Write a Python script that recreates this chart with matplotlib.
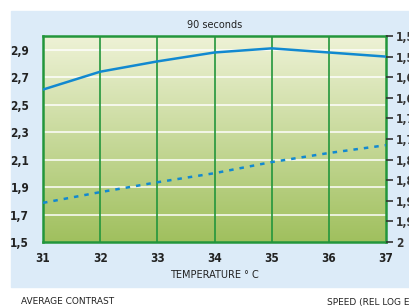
import numpy as np
import matplotlib
matplotlib.use("Agg")
import matplotlib.pyplot as plt
from matplotlib.patches import Rectangle

# data
temps = [31, 32, 33, 34, 35, 36, 37]
contrast = [2.61, 2.74, 2.815, 2.88, 2.91, 2.88, 2.85]
speed = [1.905, 1.879, 1.855, 1.833, 1.806, 1.784, 1.765]

left_ticks = [1.5, 1.7, 1.9, 2.1, 2.3, 2.5, 2.7, 2.9]
left_labels = ["1,5", "1,7", "1,9", "2,1", "2,3", "2,5", "2,7", "2,9"]
right_ticks = [1.5, 1.55, 1.6, 1.65, 1.7, 1.75, 1.8, 1.85, 1.9, 1.95, 2.0]
right_labels = ["1,5", "1,55", "1,6", "1,65", "1,7", "1,75", "1,8", "1,85", "1,9", "1,95", "2"]

num_kw = dict(family="DejaVu Sans", fontsize=8.5, weight="bold", stretch="condensed")
green = "#23963c"
blue = "#1289d0"

fig = plt.figure(figsize=(4.1, 3.08), dpi=100)
fig.patches.append(Rectangle((11 / 410, 1 - 287 / 308), 1, (287 - 11) / 308,
                             transform=fig.transFigure, color="#dcebf8", zorder=-10))

ax = fig.add_axes([43 / 410, 1 - 242 / 308, 343 / 410, 206 / 308])
ax.set_xlim(31, 37)
ax.set_ylim(1.5, 3.0)

# vertical gradient background
top = np.array([238, 242, 214]) / 255
bot = np.array([160, 192, 94]) / 255
t = np.linspace(0, 1, 256)[:, None]
grad = top * (1 - t[..., None]) + bot * t[..., None]
ax.imshow(grad, extent=[31, 37, 1.5, 3.0], aspect="auto", zorder=0)

for y in left_ticks[1:]:
    ax.axhline(y, color="white", lw=1.2, alpha=0.9, zorder=1)
for x in temps[1:-1]:
    ax.axvline(x, color=green, lw=1.2, zorder=2)

ax.plot(temps, contrast, color=blue, lw=1.8, zorder=3)

for s in ax.spines.values():
    s.set_color(green)
    s.set_linewidth(1.8)

ax.set_xticks(temps)
ax.set_xticklabels([str(v) for v in temps], **num_kw)
ax.set_yticks(left_ticks)
ax.set_yticklabels(left_labels, **num_kw)
ax.tick_params(axis="both", length=0, colors="#222222")
ax.tick_params(axis="y", pad=10)
ax.tick_params(axis="x", pad=7)
ax.set_xlabel("TEMPERATURE ° C", fontsize=7, labelpad=4, color="#222222")
ax.set_title("90 seconds", fontsize=7, pad=6, color="#222222")

ax2 = ax.twinx()
ax2.set_ylim(2.0, 1.5)
ax2.plot(temps, speed, color=blue, lw=1.8, linestyle=(0, (1.8, 2.4)), zorder=3)
ax2.set_yticks(right_ticks)
ax2.set_yticklabels(right_labels, **num_kw)
ax2.tick_params(axis="y", length=5, width=1.2, colors="#333333", pad=2)
for s in ax2.spines.values():
    s.set_visible(False)

fig.text(21 / 410, 1 - 302 / 308, "AVERAGE CONTRAST", fontsize=6.5, va="center", color="#222222")
fig.text(327 / 410, 1 - 302 / 308, "SPEED (REL LOG E)", fontsize=6.5, va="center", color="#222222")

fig.savefig("out.png", dpi=100)
